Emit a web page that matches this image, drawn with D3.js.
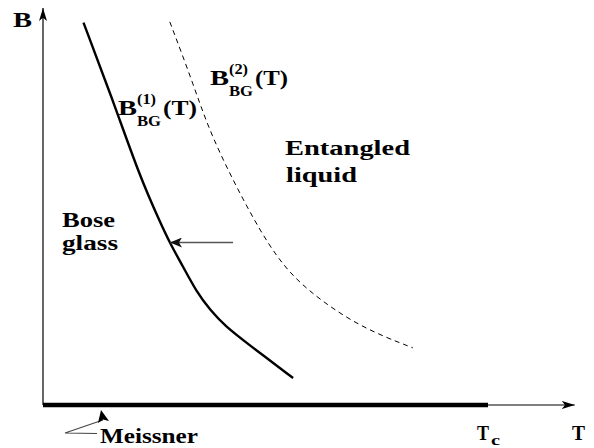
<!DOCTYPE html>
<html>
<head>
<meta charset="utf-8">
<script src="https://cdn.jsdelivr.net/npm/d3@7/dist/d3.min.js"></script>
<style>
  html, body { margin: 0; padding: 0; background: #fff; }
</style>
</head>
<body>
<svg id="chart" width="594" height="448"></svg>
<script>
// Phase boundary B_BG^(1)(T) (solid)
const solidT = [0.091, 0.157, 0.218, 0.263, 0.285, 0.315, 0.345, 0.375, 0.410, 0.458, 0.562];
const solidB = [0.963, 0.768, 0.574, 0.461, 0.408, 0.348, 0.285, 0.240, 0.198, 0.156, 0.068];
// Crossover B_BG^(2)(T) (dashed)
const dashT = [0.285, 0.337, 0.375, 0.449, 0.526, 0.600, 0.712, 0.831];
const dashB = [0.965, 0.811, 0.685, 0.516, 0.365, 0.282, 0.196, 0.144];
// Axis extents
const Tc = 1.0, Tmax = 1.195, Bmax = 1.0;

const svg = d3.select("#chart");
const x = d3.scaleLinear().domain([0, 1.2]).range([43, 577]);
const y = d3.scaleLinear().domain([0, 1]).range([405, 8]);

const defs = svg.append("defs");
function marker(id, w, h, color) {
  defs.append("marker").attr("id", id)
    .attr("viewBox", `0 0 ${w} ${h}`).attr("refX", w).attr("refY", h / 2)
    .attr("markerWidth", w).attr("markerHeight", h)
    .attr("markerUnits", "userSpaceOnUse").attr("orient", "auto")
    .append("path").attr("d", `M0,0 L${w},${h/2} L0,${h} L${w*0.25},${h/2} Z`).attr("fill", color);
}
marker("ah", 13, 8, "#000");
marker("ahg", 12, 10, "#111");

// Axes
svg.append("line").attr("x1", x(0)).attr("y1", y(0)).attr("x2", x(0)).attr("y2", y(Bmax))
  .attr("stroke", "#000").attr("stroke-width", 1.2).attr("marker-end", "url(#ah)");
svg.append("line").attr("x1", x(0)).attr("y1", y(0)).attr("x2", x(Tmax)).attr("y2", y(0))
  .attr("stroke", "#000").attr("stroke-width", 1.2).attr("marker-end", "url(#ah)");
// Meissner phase (thick)
svg.append("line").attr("x1", x(0)).attr("y1", y(0)).attr("x2", x(Tc)).attr("y2", y(0))
  .attr("stroke", "#000").attr("stroke-width", 4.5);

const lineS = d3.line().x(d => x(d[0])).y(d => y(d[1])).curve(d3.curveBasis);
svg.append("path").attr("d", lineS(d3.zip(solidT, solidB)))
  .attr("fill", "none").attr("stroke", "#000").attr("stroke-width", 2.4);
svg.append("path").attr("d", lineS(d3.zip(dashT, dashB)))
  .attr("fill", "none").attr("stroke", "#000").attr("stroke-width", 1).attr("stroke-dasharray", "5,4");

// Horizontal arrow
svg.append("line").attr("x1", 233).attr("y1", 242.5).attr("x2", 170).attr("y2", 242.5)
  .attr("stroke", "#555").attr("stroke-width", 1.6).attr("marker-end", "url(#ahg)");

// Meissner pointer
svg.append("path").attr("d", "M97,433.5 L65,433 L103,420")
  .attr("fill", "none").attr("stroke", "#444").attr("stroke-width", 1.1);
svg.append("path").attr("d", "M101,410 L109,421 L103,419.5 L98,423 Z").attr("fill", "#000");

function txt(s, px, py, size, w) {
  const t = svg.append("text").attr("x", px).attr("y", py)
    .attr("font-family", "'Liberation Serif', 'Times New Roman', serif")
    .attr("font-weight", "bold").attr("fill", "#000")
    .attr("font-size", size).text(s);
  if (w) t.attr("textLength", w).attr("lengthAdjust", "spacingAndGlyphs");
  return t;
}
const fs = 20.5, fsub = 14;
txt("B", 13, 27, fs, 19);
txt("T", 572, 440, fs, 13);
txt("T", 477, 440, fs, 12);
txt("c", 491, 444.5, fsub, 9);
txt("Meissner", 100, 443, fs, 98);
txt("Bose", 62, 227, fs, 53);
txt("glass", 62, 250, fs, 56);
txt("Entangled", 285, 155, fs, 125);
txt("liquid", 286, 182, fs, 71);

// B_BG^(1)(T)
txt("B", 118, 115, fs, 19);
txt("(1)", 137, 104, fsub, 19);
txt("BG", 137, 126, fsub, 24);
txt("(T)", 163, 115, fs, 34);
// B_BG^(2)(T)
txt("B", 210, 85, fs, 19);
txt("(2)", 229, 74, fsub, 19);
txt("BG", 229, 96, fsub, 24);
txt("(T)", 255, 85, fs, 33);
</script>
</body>
</html>
